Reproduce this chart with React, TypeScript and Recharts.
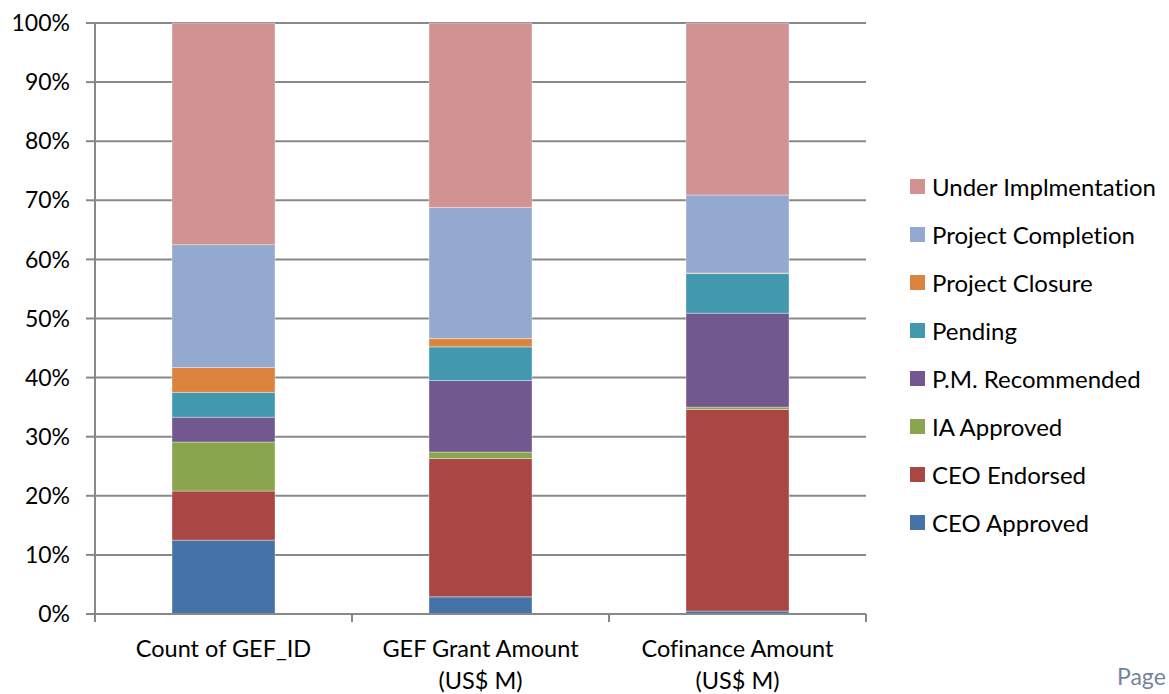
import { BarChart, Bar, XAxis, YAxis, CartesianGrid } from "recharts";

const categories = ["Count of GEF_ID", "GEF Grant Amount|(US$ M)", "Cofinance Amount|(US$ M)"];

// percent share per category, bottom to top
const ceoApproved = [12.5, 2.9, 0.5];
const ceoEndorsed = [8.3, 23.4, 34.1];
const iaApproved = [8.3, 1.1, 0.4];
const pmRecommended = [4.2, 12.1, 15.9];
const pending = [4.2, 5.7, 6.7];
const projectClosure = [4.2, 1.4, 0.1];
const projectCompletion = [20.8, 22.2, 13.2];
const underImplmentation = [37.5, 31.2, 29.1];

const yTicks = [0, 0.1, 0.2, 0.3, 0.4, 0.5, 0.6, 0.7, 0.8, 0.9, 1];

const series = [
  { key: "ceoApproved", name: "CEO Approved", values: ceoApproved, color: "#4572A7" },
  { key: "ceoEndorsed", name: "CEO Endorsed", values: ceoEndorsed, color: "#AA4643" },
  { key: "iaApproved", name: "IA Approved", values: iaApproved, color: "#89A54E" },
  { key: "pmRecommended", name: "P.M. Recommended", values: pmRecommended, color: "#71588F" },
  { key: "pending", name: "Pending", values: pending, color: "#4198AF" },
  { key: "projectClosure", name: "Project Closure", values: projectClosure, color: "#DB843D" },
  { key: "projectCompletion", name: "Project Completion", values: projectCompletion, color: "#93A9CF" },
  { key: "underImplmentation", name: "Under Implmentation", values: underImplmentation, color: "#D19392" },
];

const data = categories.map((name, i) => {
  const row: Record<string, any> = { name };
  series.forEach((s) => (row[s.key] = s.values[i]));
  return row;
});

const FONT = "Lato, 'Noto Sans', sans-serif";
const GRID = "#888888";

const CategoryTick = (props: any) => {
  const { x, y, payload, index } = props;
  const half = payload.offset || 128.5;
  const lines = String(payload.value).split("|");
  return (
    <g>
      <line x1={x - half} y1={y} x2={x - half} y2={y + 8} stroke={GRID} strokeWidth={2} />
      {index === categories.length - 1 && (
        <line x1={x + half} y1={y} x2={x + half} y2={y + 8} stroke={GRID} strokeWidth={2} />
      )}
      <text x={x} y={y} textAnchor="middle" fill="#000" fontSize={23.5} fontFamily={FONT}>
        {lines.map((l, i) => (
          <tspan key={i} x={x} dy={i === 0 ? 43 : 32}>
            {l}
          </tspan>
        ))}
      </text>
    </g>
  );
};

export default function App() {
  return (
    <div
      style={{
        position: "absolute",
        left: 0,
        top: 0,
        width: 1169,
        height: 694,
        background: "#fff",
        overflow: "hidden",
        fontVariantLigatures: "none",
      }}
    >
      <BarChart
        width={1169}
        height={694}
        data={data}
        stackOffset="expand"
        margin={{ top: 23, right: 303, bottom: 0, left: 0 }}
      >
        <CartesianGrid vertical={false} stroke={GRID} strokeWidth={2} />
        <XAxis
          dataKey="name"
          axisLine={{ stroke: GRID, strokeWidth: 2 }}
          tickLine={false}
          tickSize={0}
          tickMargin={0}
          interval={0}
          tick={<CategoryTick />}
          height={80}
        />
        <YAxis
          width={95}
          domain={[0, 1]}
          ticks={yTicks}
          tickFormatter={(v: number) => `${Math.round(v * 100)}%`}
          axisLine={{ stroke: GRID, strokeWidth: 2 }}
          tickLine={{ stroke: GRID, strokeWidth: 2 }}
          tickSize={9}
          tickMargin={16}
          tick={{ fill: "#000", fontSize: 23, fontFamily: FONT }}
        />
        {series.map((s) => (
          <Bar
            key={s.key}
            dataKey={s.key}
            name={s.name}
            stackId="a"
            fill={s.color}
            barSize={103}
            stroke="#ffffff"
            strokeOpacity={0.35}
            strokeWidth={1}
            isAnimationActive={false}
          />
        ))}
      </BarChart>
      <div style={{ position: "absolute", left: 910, top: 162, fontFamily: FONT, fontSize: 24, color: "#000" }}>
        {[...series].reverse().map((s) => (
          <div key={s.key} style={{ display: "flex", alignItems: "center", height: 48 }}>
            <span style={{ width: 15, height: 15, background: s.color, marginRight: 7, display: "inline-block" }} />
            <span style={{ whiteSpace: "nowrap" }}>{s.name}</span>
          </div>
        ))}
      </div>
      <div style={{ position: "absolute", left: 1117, top: 662, fontFamily: FONT, fontSize: 23, color: "#75849c" }}>
        Page
      </div>
    </div>
  );
}
